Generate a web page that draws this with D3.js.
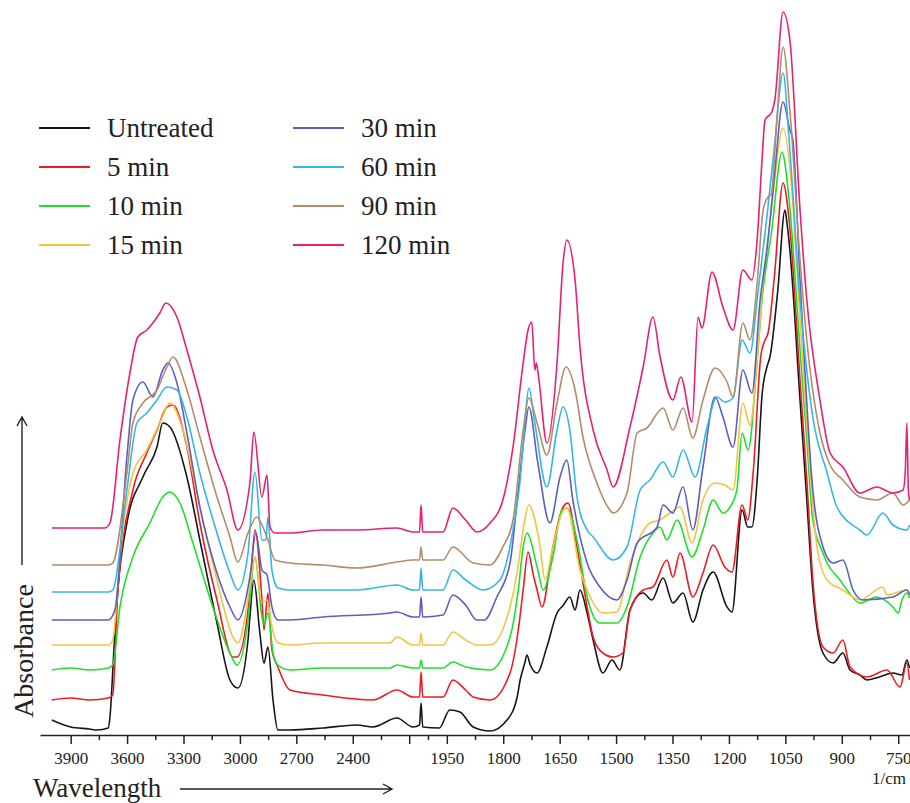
<!DOCTYPE html>
<html>
<head>
<meta charset="utf-8">
<script src="https://cdn.jsdelivr.net/npm/d3@7"></script>
<style>
  body { margin: 0; background: #fff; }
  svg { display: block; font-family: "Liberation Serif", "Times New Roman", serif; }
  .spectrum { fill: none; stroke-width: 1.6; stroke-linejoin: round; }
  .axis path, .axis line { stroke: #222; stroke-width: 1.5; }
</style>
</head>
<body>
<script>

// series names + colours (legend order)
const names = ["Untreated", "5 min", "10 min", "15 min", "30 min", "60 min", "90 min", "120 min"];
const colors = ["#161616", "#ec1c24", "#1ee02a", "#f6c244", "#5c5fc2", "#36b6e4", "#b48c6a", "#e8206e"];

// spectra: [wavenumber 1/cm, absorbance a.u.]
const untreated = [[4000,0.20],[3900,0.13],[3800,0.11],[3761,0.10],[3700,0.12],[3691,0.23],[3670,0.90],[3649,1.50],[3601,2.17],[3516,2.63],[3441,2.93],[3410,3.17],[3372,3.13],[3282,2.63],[3213,2.00],[3122,1.17],[3053,0.60],[3011,0.52],[2957,1.00],[2947,1.23],[2926,1.60],[2894,1.07],[2872,0.77],[2851,0.93],[2824,0.40],[2798,0.10],[2734,0.10],[2559,0.12],[2378,0.15],[2293,0.13],[2165,0.22],[2080,0.13],[2045,0.15],[2037,0.37],[2028,0.13],[1970,0.12],[1942,0.30],[1915,0.28],[1880,0.13],[1835,0.09],[1790,0.20],[1763,0.43],[1755,0.60],[1742,0.78],[1737,0.85],[1728,0.75],[1710,0.67],[1684,0.93],[1657,1.27],[1640,1.35],[1623,1.43],[1609,1.30],[1596,1.50],[1577,1.27],[1561,1.00],[1535,0.67],[1511,0.80],[1490,0.70],[1463,1.30],[1428,1.47],[1405,1.40],[1375,1.62],[1349,1.37],[1322,1.47],[1296,1.18],[1269,1.50],[1242,1.68],[1205,1.33],[1192,1.28],[1165,2.30],[1150,2.13],[1139,2.13],[1125,2.60],[1112,3.45],[1099,3.73],[1091,3.83],[1070,4.50],[1051,5.30],[1046,5.18],[1038,4.90],[1011,3.40],[993,2.40],[977,1.50],[950,0.87],[923,0.77],[897,0.87],[878,0.70],[852,0.65],[833,0.60],[800,0.63],[764,0.67],[740,0.65],[727,0.80],[720,0.72]];

const min5 = [[4000,0.40],[3900,0.42],[3800,0.40],[3700,0.42],[3676,0.45],[3649,1.50],[3569,2.50],[3495,2.87],[3441,3.10],[3388,3.33],[3356,3.35],[3282,2.93],[3213,2.17],[3122,1.40],[3037,0.83],[3016,0.83],[2947,1.47],[2920,2.10],[2883,1.40],[2872,1.10],[2851,1.47],[2830,0.90],[2798,0.73],[2734,0.50],[2559,0.45],[2293,0.40],[2165,0.50],[2080,0.43],[2045,0.43],[2037,0.68],[2028,0.43],[1960,0.43],[1934,0.60],[1900,0.50],[1880,0.43],[1835,0.40],[1782,0.67],[1760,1.10],[1747,1.50],[1734,1.88],[1720,1.65],[1710,1.50],[1697,1.33],[1668,1.93],[1641,2.33],[1628,2.37],[1604,1.93],[1577,1.33],[1561,1.03],[1535,0.87],[1508,0.83],[1482,0.87],[1463,1.30],[1428,1.50],[1402,1.53],[1365,1.80],[1349,1.63],[1330,1.87],[1296,1.43],[1269,1.67],[1242,1.95],[1211,1.73],[1192,1.68],[1165,2.35],[1150,2.20],[1135,2.70],[1115,3.85],[1104,4.00],[1096,4.07],[1080,4.60],[1056,5.57],[1040,5.20],[1011,3.60],[993,2.60],[977,1.60],[950,0.93],[923,0.87],[897,1.00],[878,0.73],[833,0.63],[780,0.70],[745,0.53],[727,0.77],[720,0.60]];

const min10 = [[4000,0.70],[3900,0.72],[3800,0.70],[3700,0.72],[3676,0.75],[3638,1.33],[3569,1.83],[3479,2.17],[3410,2.43],[3372,2.48],[3319,2.37],[3250,1.97],[3144,1.33],[3053,0.87],[3016,0.75],[2957,1.20],[2947,1.40],[2920,1.83],[2883,1.23],[2872,1.15],[2851,1.27],[2824,0.87],[2798,0.75],[2734,0.70],[2559,0.72],[2202,0.72],[2165,0.75],[2080,0.72],[2045,0.72],[2037,0.80],[2028,0.72],[1960,0.72],[1934,0.78],[1900,0.73],[1835,0.70],[1782,1.03],[1760,1.50],[1747,1.93],[1737,2.07],[1710,1.73],[1694,1.50],[1668,1.83],[1644,2.30],[1631,2.32],[1604,2.00],[1577,1.43],[1543,1.17],[1498,1.17],[1471,1.33],[1436,1.83],[1402,2.07],[1383,2.13],[1365,2.00],[1338,2.20],[1298,1.83],[1269,2.10],[1242,2.40],[1216,2.27],[1197,2.33],[1179,2.50],[1165,3.07],[1149,2.90],[1125,3.80],[1112,4.40],[1086,5.10],[1059,5.88],[1040,5.40],[1011,3.90],[993,3.00],[977,2.20],[950,1.87],[939,1.77],[905,1.60],[886,1.50],[852,1.37],[807,1.43],[764,1.33],[750,1.27],[740,1.40],[727,1.47],[720,1.42]];

const min15 = [[4000,0.95],[3900,0.95],[3800,0.95],[3700,0.95],[3676,1.00],[3638,1.83],[3569,2.67],[3495,2.90],[3426,3.17],[3372,3.37],[3303,3.10],[3213,2.33],[3122,1.60],[3037,1.03],[3011,0.97],[2947,1.53],[2920,1.83],[2883,1.37],[2856,1.40],[2830,1.13],[2798,0.97],[2734,0.95],[2559,0.97],[2202,0.97],[2165,1.03],[2080,0.95],[2045,0.95],[2037,1.07],[2028,0.95],[1960,0.95],[1934,1.08],[1900,1.00],[1870,0.95],[1835,0.95],[1782,1.33],[1760,1.75],[1747,2.10],[1732,2.35],[1702,1.93],[1689,1.60],[1668,1.93],[1644,2.27],[1631,2.32],[1596,1.70],[1577,1.50],[1535,1.27],[1498,1.28],[1463,1.77],[1410,2.17],[1383,2.20],[1357,2.27],[1330,2.33],[1298,1.97],[1269,2.40],[1237,2.57],[1211,2.55],[1189,2.50],[1163,3.37],[1144,3.15],[1125,3.80],[1109,4.60],[1090,5.20],[1056,6.12],[1035,5.60],[1011,4.20],[977,2.35],[966,1.93],[939,1.60],[897,1.50],[852,1.40],[791,1.53],[780,1.45],[727,1.50],[720,1.47]];

const min30 = [[4000,1.20],[3800,1.20],[3700,1.20],[3665,1.30],[3601,2.83],[3569,3.40],[3516,3.58],[3463,3.43],[3410,3.70],[3383,3.77],[3335,3.57],[3282,3.07],[3213,2.33],[3122,1.67],[3053,1.33],[3011,1.20],[2947,1.63],[2915,2.07],[2883,1.70],[2856,1.65],[2830,1.33],[2798,1.20],[2734,1.20],[2559,1.23],[2202,1.27],[2165,1.28],[2080,1.23],[2045,1.23],[2037,1.43],[2028,1.23],[1960,1.25],[1934,1.45],[1900,1.35],[1870,1.20],[1850,1.20],[1817,1.43],[1782,1.77],[1760,2.50],[1742,3.10],[1732,3.33],[1708,2.77],[1676,2.17],[1649,2.63],[1631,2.80],[1615,2.40],[1577,1.77],[1543,1.53],[1498,1.40],[1471,1.60],[1444,1.97],[1391,2.13],[1375,2.35],[1349,2.27],[1322,2.53],[1296,2.10],[1269,2.73],[1237,3.43],[1216,3.23],[1189,2.93],[1163,3.70],[1139,3.47],[1117,4.40],[1099,4.90],[1080,5.60],[1056,6.38],[1038,6.10],[1030,6.00],[1011,4.60],[977,2.50],[950,1.93],[923,1.77],[897,1.80],[870,1.50],[844,1.40],[764,1.43],[727,1.50],[720,1.45]];

const min60 = [[4000,1.48],[3800,1.48],[3700,1.48],[3676,1.50],[3601,2.50],[3548,3.17],[3495,3.27],[3441,3.40],[3388,3.53],[3335,3.50],[3282,3.23],[3213,2.67],[3122,2.07],[3053,1.67],[3011,1.50],[2957,1.87],[2920,2.68],[2883,2.00],[2862,2.00],[2851,2.23],[2830,1.70],[2798,1.52],[2734,1.50],[2559,1.50],[2378,1.50],[2165,1.55],[2080,1.50],[2045,1.50],[2037,1.72],[2028,1.50],[1960,1.50],[1934,1.70],[1900,1.60],[1854,1.50],[1809,1.60],[1774,2.10],[1755,2.60],[1742,3.20],[1732,3.52],[1716,3.17],[1684,2.53],[1657,3.10],[1641,3.33],[1623,3.10],[1604,2.43],[1577,2.10],[1561,2.03],[1508,1.80],[1471,1.93],[1436,2.50],[1410,2.60],[1375,2.78],[1349,2.63],[1322,2.90],[1290,2.63],[1258,3.13],[1232,3.43],[1211,3.38],[1189,3.42],[1165,4.00],[1144,3.87],[1123,4.47],[1100,5.20],[1080,5.90],[1056,6.67],[1040,6.00],[1011,4.40],[977,3.23],[939,2.67],[913,2.33],[852,2.10],[833,2.05],[791,2.27],[764,2.15],[727,2.10],[720,2.15]];

const min90 = [[4000,1.75],[3800,1.75],[3700,1.75],[3676,1.77],[3601,2.67],[3569,3.17],[3516,3.37],[3441,3.50],[3388,3.73],[3356,3.83],[3282,3.50],[3213,3.03],[3122,2.43],[3053,2.03],[3011,1.78],[2957,2.07],[2910,2.23],[2878,2.13],[2851,2.00],[2814,1.80],[2734,1.77],[2559,1.75],[2378,1.72],[2165,1.78],[2080,1.80],[2045,1.80],[2037,1.93],[2028,1.80],[1960,1.80],[1934,1.93],[1880,1.77],[1835,1.75],[1801,1.93],[1774,2.20],[1747,3.10],[1732,3.42],[1710,3.17],[1684,2.85],[1657,3.37],[1633,3.73],[1609,3.50],[1588,3.03],[1551,2.57],[1522,2.33],[1508,2.27],[1471,2.47],[1444,3.07],[1418,3.12],[1375,3.32],[1349,3.10],[1322,3.32],[1296,3.02],[1269,3.40],[1237,3.72],[1205,3.58],[1189,3.43],[1163,4.17],[1144,4.00],[1125,4.57],[1109,5.30],[1096,5.43],[1088,5.45],[1072,6.23],[1056,6.93],[1038,6.30],[1011,4.80],[993,4.00],[958,3.07],[931,2.75],[897,2.60],[852,2.43],[807,2.40],[764,2.47],[737,2.35],[720,2.40]];

const min120 = [[4000,2.12],[3800,2.12],[3718,2.12],[3691,2.17],[3638,3.00],[3585,3.67],[3543,4.03],[3495,4.10],[3463,4.17],[3426,4.27],[3394,4.37],[3335,4.23],[3282,3.90],[3213,3.43],[3144,2.90],[3069,2.50],[3011,2.10],[2947,2.57],[2926,3.08],[2883,2.43],[2856,2.65],[2840,2.13],[2814,2.07],[2734,2.07],[2559,2.10],[2378,2.10],[2165,2.12],[2080,2.08],[2045,2.08],[2037,2.35],[2028,2.08],[1960,2.08],[1934,2.32],[1900,2.20],[1870,2.08],[1835,2.17],[1801,2.40],[1774,2.93],[1747,3.77],[1734,4.10],[1724,4.18],[1716,3.70],[1712,3.77],[1706,3.63],[1684,2.97],[1657,3.77],[1641,4.77],[1631,5.00],[1609,4.60],[1596,3.93],[1561,3.10],[1524,2.70],[1508,2.53],[1463,3.13],[1428,3.73],[1402,4.23],[1383,3.83],[1349,3.40],[1328,3.63],[1298,3.18],[1282,4.23],[1272,4.12],[1245,4.68],[1216,4.33],[1189,4.10],[1163,4.70],[1139,4.60],[1125,5.00],[1112,5.80],[1104,6.20],[1086,6.28],[1078,6.40],[1056,7.28],[1038,7.00],[1011,5.30],[993,4.40],[958,3.40],[931,2.87],[897,2.73],[852,2.47],[807,2.53],[764,2.47],[737,2.50],[731,2.70],[727,3.17],[723,2.50],[720,2.40]];

const spectra = [untreated, min5, min10, min15, min30, min60, min90, min120];

// tick values (the scale is doubled below 2000 1/cm)
const majorTicks = [3900, 3600, 3300, 3000, 2700, 2400, 2100, 1950, 1800, 1650, 1500, 1350, 1200, 1050, 900, 750];
const minorTicks = [3750, 3450, 3150, 2850, 2550, 2250, 2000, 1875, 1725, 1575, 1425, 1275, 1125, 975, 825];
const labelledTicks = [3900, 3600, 3300, 3000, 2700, 2400, 1950, 1800, 1650, 1500, 1350, 1200, 1050, 900, 750];

const W = 910, H = 803;
const serif = "'Liberation Serif', 'Times New Roman', serif";

const svg = d3.select("body").append("svg")
  .attr("width", W).attr("height", H)
  .style("background", "#fff");

// piecewise x scale with a break at 2000
const x = d3.scaleLinear().domain([4063, 2000, 716]).range([40, 428, 911]);
const y = d3.scaleLinear().domain([0, 7.4]).range([740, 0]);
const axisY = 735;

// spectra
const line = d3.line()
  .x(d => x(d[0]))
  .y(d => y(d[1]))
  .curve(d3.curveMonotoneX);

svg.append("g").selectAll("path")
  .data(spectra)
  .join("path")
  .attr("class", "spectrum")
  .attr("stroke", (d, i) => colors[i])
  .attr("d", line);

// x axis
const gx = svg.append("g").attr("class", "axis")
  .attr("transform", `translate(0,${axisY})`);

gx.call(d3.axisBottom(x)
  .tickValues(majorTicks)
  .tickSizeOuter(0)
  .tickSizeInner(9)
  .tickPadding(8)
  .tickFormat(d => labelledTicks.includes(d) ? d : ""));

gx.append("g").call(d3.axisBottom(x)
  .tickValues(minorTicks)
  .tickSize(5)
  .tickFormat(""))
  .call(g => g.select(".domain").remove());

gx.attr("font-family", serif).attr("font-size", 17);
gx.selectAll("text")
  .style("font-family", serif)
  .style("font-size", "17px")
  .attr("fill", "#222");

svg.append("text")
  .attr("x", 906).attr("y", 784)
  .attr("text-anchor", "end")
  .style("font-family", serif)
  .style("font-size", "17px").style("fill", "#222")
  .text("1/cm");

// axis titles with arrows
svg.append("text")
  .attr("x", 33).attr("y", 797)
  .style("font-family", serif)
  .style("font-size", "27px").style("fill", "#222")
  .text("Wavelength");

svg.append("path")
  .attr("d", "M180,789H392M383,784L392,789L383,794")
  .attr("fill", "none").attr("stroke", "#222").attr("stroke-width", 1.4);

svg.append("text")
  .attr("transform", "translate(33,651) rotate(-90)")
  .attr("text-anchor", "middle")
  .style("font-family", serif)
  .style("font-size", "28px").style("fill", "#222")
  .text("Absorbance");

svg.append("path")
  .attr("d", "M22,565V417M17,426L22,417L27,426")
  .attr("fill", "none").attr("stroke", "#222").attr("stroke-width", 1.4);

// legend, two columns of four
const legend = svg.append("g");
const item = legend.selectAll("g")
  .data(names)
  .join("g")
  .attr("transform", (d, i) => `translate(${i < 4 ? 39 : 293},${128 + (i % 4) * 39})`);

item.append("line")
  .attr("x1", 0).attr("x2", 51)
  .attr("stroke", (d, i) => colors[i])
  .attr("stroke-width", 2);

item.append("text")
  .attr("x", 68).attr("dy", "0.33em")
  .style("font-family", serif)
  .style("font-size", "27px").style("fill", "#222")
  .text(d => d);

</script>
</body>
</html>
